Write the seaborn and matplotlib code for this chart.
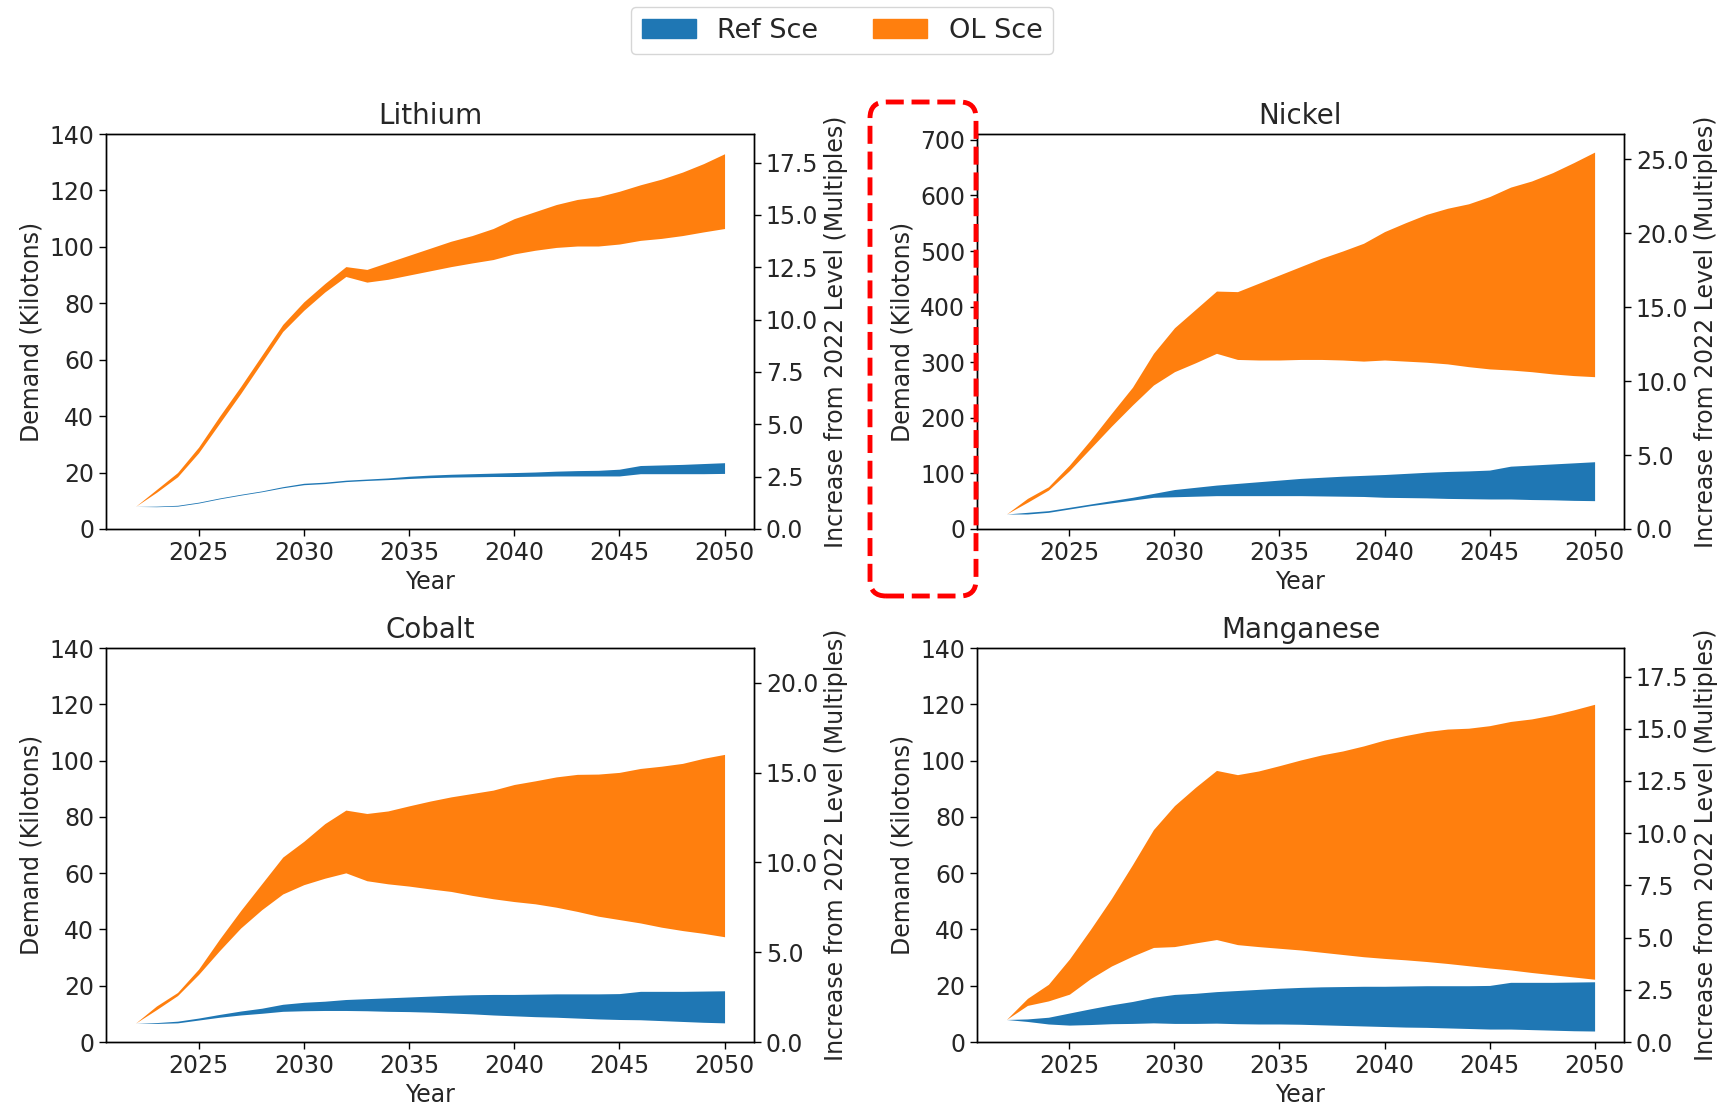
import matplotlib
matplotlib.use("Agg")
import matplotlib.pyplot as plt
import matplotlib.ticker as mticker
from matplotlib.patches import Patch, FancyBboxPatch
from matplotlib.transforms import IdentityTransform
import seaborn as sns

# ---------------------------------------------------------------- data
years = list(range(2022, 2051))

minerals = ["Lithium", "Nickel", "Cobalt", "Manganese"]

# 2022 demand level used for the "multiples" axis (kilotons)
base_2022 = [7.42, 26.6, 6.38, 7.42]

# Lithium (kilotons)
li_ref_low = [8, 7.9, 8.1, 9.2, 10.7, 12.0, 13.2, 14.6, 15.7, 16.1, 16.8, 17.2, 17.5, 17.9, 18.2,
              18.4, 18.5, 18.6, 18.6, 18.7, 18.8, 18.8, 18.8, 18.8, 19.6, 19.6, 19.6, 19.6, 19.7]
li_ref_high = [8, 8.1, 8.4, 9.5, 11.0, 12.3, 13.5, 15.0, 16.2, 16.6, 17.3, 17.7, 18.1, 18.7, 19.1,
               19.4, 19.6, 19.8, 20.0, 20.2, 20.5, 20.7, 20.8, 21.2, 22.5, 22.7, 22.9, 23.2, 23.5]
li_ol_low = [8, 13, 18.5, 27, 37.5, 48, 59, 70, 77.5, 84, 89.5, 87.5, 88.5, 90, 91.5,
             93, 94.3, 95.5, 97.5, 98.8, 99.8, 100.3, 100.3, 101, 102.3, 103, 104, 105.3, 106.5]
li_ol_high = [8, 14, 20, 29, 40, 50.5, 61.5, 72.5, 80.5, 87, 93, 92, 94.5, 97, 99.5,
              102, 104, 106.5, 110, 112.5, 115, 116.8, 117.8, 119.7, 122, 124, 126.5, 129.5, 133]

# Nickel (kilotons)
ni_ref_low = [27, 27, 30, 36, 42, 47, 52, 57, 58, 59, 60, 60, 60, 60, 60,
              59.5, 59, 58.5, 57, 56.5, 56, 55, 54.5, 54, 54, 53, 52.5, 51.5, 51]
ni_ref_high = [27, 30, 33, 39, 45, 51, 57, 64, 71, 75, 79, 82, 85, 88, 91,
               93, 95, 96.5, 98, 100, 102, 103.5, 104.5, 106, 113, 115, 117, 119, 121]
ni_ol_low = [27, 48, 70, 105, 145, 185, 223, 259, 283, 299, 316, 305, 304, 304, 305,
             305, 304, 302, 304, 302, 300, 297, 292, 288, 286, 283, 279, 276, 274]
ni_ol_high = [27, 55, 76, 115, 160, 208, 255, 316, 362, 395, 428, 427, 442, 457, 472,
              487, 500, 514, 535, 551, 566, 577, 585, 598, 615, 626, 641, 659, 678]

# Cobalt (kilotons)
co_ref_low = [6.7, 6.6, 6.8, 7.8, 8.8, 9.6, 10.2, 10.9, 11.1, 11.2, 11.2, 11.1, 10.9, 10.8, 10.6,
              10.3, 10.0, 9.6, 9.3, 9.0, 8.8, 8.5, 8.2, 8.0, 7.9, 7.6, 7.3, 7.0, 6.8]
co_ref_high = [6.7, 6.9, 7.4, 8.5, 9.8, 11.0, 12.0, 13.4, 14.1, 14.5, 15.1, 15.4, 15.7, 16.0, 16.3,
               16.6, 16.8, 16.9, 16.9, 17.0, 17.1, 17.1, 17.1, 17.2, 18.0, 18.0, 18.0, 18.1, 18.2]
co_ol_low = [6.7, 11.5, 16.5, 24, 32.5, 40.5, 47, 52.6, 55.9, 58.2, 60.1, 57.3, 56.2, 55.4, 54.4,
             53.5, 52.1, 50.9, 49.9, 49.1, 47.9, 46.4, 44.7, 43.5, 42.3, 40.8, 39.6, 38.6, 37.4]
co_ol_high = [6.7, 12.8, 17.6, 25.9, 36.6, 46.7, 56.2, 65.7, 71.3, 77.6, 82.4, 81.2, 82.1, 83.9, 85.6,
              87.1, 88.3, 89.5, 91.5, 92.8, 94.2, 95.1, 95.2, 95.8, 97.2, 98.0, 99.0, 100.8, 102.2]

# Manganese (kilotons)
mn_ref_low = [8, 7.3, 6.4, 6.0, 6.2, 6.5, 6.6, 6.8, 6.6, 6.6, 6.7, 6.5, 6.4, 6.4, 6.3,
              6.1, 5.9, 5.7, 5.5, 5.3, 5.2, 5.0, 4.8, 4.6, 4.6, 4.4, 4.2, 4.0, 3.9]
mn_ref_high = [8, 8.2, 8.8, 10.3, 11.8, 13.2, 14.4, 15.9, 16.9, 17.3, 17.9, 18.3, 18.7, 19.1, 19.4,
               19.6, 19.7, 19.8, 19.8, 19.9, 20.0, 20.0, 20.0, 20.1, 21.2, 21.2, 21.2, 21.3, 21.4]
mn_ol_low = [8, 13, 14.6, 17, 22.5, 27, 30.5, 33.6, 33.9, 35.2, 36.4, 34.6, 33.9, 33.3, 32.7,
             31.9, 31.1, 30.3, 29.7, 29.2, 28.6, 27.9, 27.1, 26.3, 25.6, 24.7, 23.9, 23.1, 22.3]
mn_ol_high = [8, 15.5, 20.5, 29.5, 40, 51, 63, 75.5, 84, 90.5, 96.5, 95, 96.3, 98.2, 100.2,
              102, 103.4, 105.2, 107.3, 108.9, 110.3, 111.2, 111.5, 112.4, 113.9, 114.8, 116.2, 118, 120]

ref_low = [li_ref_low, ni_ref_low, co_ref_low, mn_ref_low]
ref_high = [li_ref_high, ni_ref_high, co_ref_high, mn_ref_high]
ol_low = [li_ol_low, ni_ol_low, co_ol_low, mn_ol_low]
ol_high = [li_ol_high, ni_ol_high, co_ol_high, mn_ol_high]

series_names = ["Ref Sce", "OL Sce"]

# ---------------------------------------------------------------- style
sns.set_theme(style="ticks")
plt.rcParams["font.family"] = ["DejaVu Sans"]
palette = sns.color_palette("tab10")
ref_color, ol_color = palette[0], palette[1]

W, H = 1721, 1103
fig = plt.figure(figsize=(W / 100, H / 100), dpi=100)

# axes boxes in pixels: (left, top, right, bottom)
boxes = [(106, 134, 754, 529), (977, 134, 1624, 529),
         (106, 648, 754, 1042), (977, 648, 1624, 1042)]
left_tick_step = [20, 100, 20, 20]
right_tick_step = [2.5, 5, 5, 2.5]

tick_fs = 17
label_fs = 17
title_fs = 20

for i, name in enumerate(minerals):
    l, t, r, b = boxes[i]
    ax = fig.add_axes([l / W, 1 - b / H, (r - l) / W, (b - t) / H])
    ax.fill_between(years, ref_low[i], ref_high[i], color=ref_color, linewidth=0)
    ax.fill_between(years, ol_low[i], ol_high[i], color=ol_color, linewidth=0)

    if name == "Nickel":
        ax.autoscale(axis="y")
        ax.set_ylim(bottom=0)
    else:
        ax.set_ylim(0, 140)
    ax.yaxis.set_major_locator(mticker.MultipleLocator(left_tick_step[i]))
    ax.xaxis.set_major_locator(mticker.FixedLocator([2025, 2030, 2035, 2040, 2045, 2050]))
    ax.set_xlabel("Year", fontsize=label_fs, labelpad=4)
    ax.set_ylabel("Demand (Kilotons)", fontsize=label_fs)
    ax.set_title(name, fontsize=title_fs, pad=7)
    ax.tick_params(labelsize=tick_fs, length=5, width=1, color="black")
    for sp in ax.spines.values():
        sp.set_color("black")
        sp.set_linewidth(1)

    ax2 = ax.twinx()
    y0, y1 = ax.get_ylim()
    ax2.set_ylim(y0 / base_2022[i], y1 / base_2022[i])
    ax2.yaxis.set_major_locator(mticker.MultipleLocator(right_tick_step[i]))
    ax2.yaxis.set_major_formatter(mticker.FormatStrFormatter("%.1f"))
    ax2.set_ylabel("Increase from 2022 Level (Multiples)", fontsize=label_fs)
    ax2.tick_params(labelsize=tick_fs, length=5, width=1, color="black")
    for sp in ax2.spines.values():
        sp.set_color("black")
        sp.set_linewidth(1)

handles = [Patch(facecolor=ref_color, edgecolor=ref_color),
           Patch(facecolor=ol_color, edgecolor=ol_color)]
fig.legend(handles, series_names, loc="center", bbox_to_anchor=(842 / W, 1 - 30.5 / H),
           ncol=2, fontsize=19.5, frameon=True, fancybox=True, edgecolor="#cccccc")

# dashed highlight around the Nickel demand axis
hl = FancyBboxPatch((870, H - 596), 106, 494,
                    boxstyle="round,pad=0,rounding_size=16",
                    transform=IdentityTransform(), fill=False,
                    edgecolor="#ff0000", linewidth=3.5, linestyle="--")
fig.patches.append(hl)

fig.savefig("out.png", dpi=100)
